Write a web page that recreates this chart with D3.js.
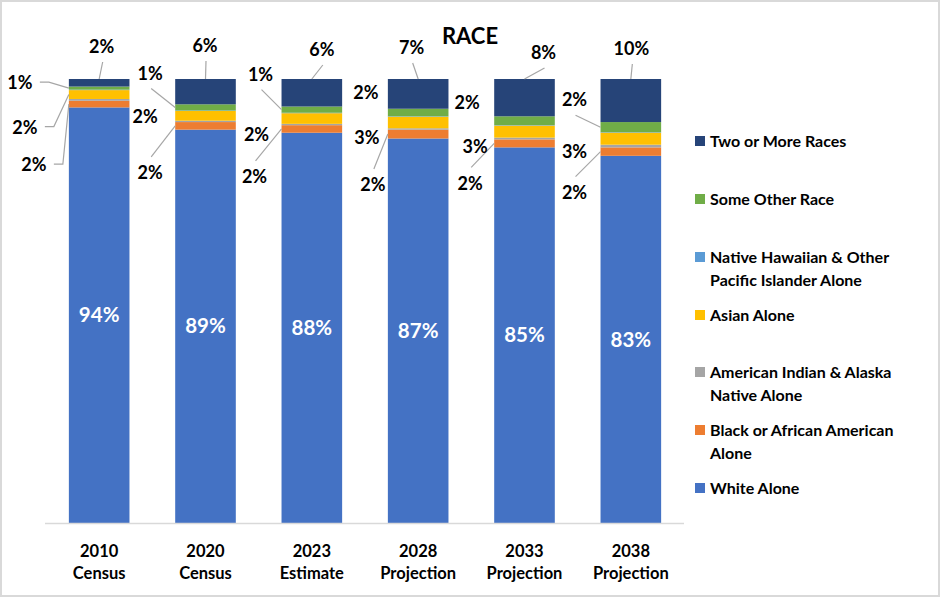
<!DOCTYPE html>
<html>
<head>
<meta charset="utf-8">
<script src="https://cdn.jsdelivr.net/npm/d3@7"></script>
<style>
  html, body { margin: 0; padding: 0; background: #fff; }
  svg { display: block; font-family: Lato, "Open Sans", sans-serif; }
</style>
</head>
<body>
<svg id="chart" width="940" height="598"></svg>
<script>
// ---------- DATA ----------
const categories = [["2010", "Census"], ["2020", "Census"], ["2023", "Estimate"],
                    ["2028", "Projection"], ["2033", "Projection"], ["2038", "Projection"]];
const seriesNames = ["White Alone", "Black or African American Alone",
  "American Indian & Alaska Native Alone", "Asian Alone",
  "Native Hawaiian & Other Pacific Islander Alone", "Some Other Race", "Two or More Races"];
const white = [93.6, 88.6, 87.9, 86.6, 84.6, 82.7];
const black = [1.5, 1.7, 1.7, 2.0, 1.8, 1.9];
const aian  = [0.4, 0.3, 0.3, 0.3, 0.4, 0.6];
const asian = [2.0, 2.2, 2.4, 2.6, 2.7, 2.7];
const nhpi  = [0.1, 0.1, 0.1, 0.1, 0.1, 0.1];
const other = [0.7, 1.4, 1.4, 1.7, 2.0, 2.3];
const twoPlus = [1.7, 5.7, 6.2, 6.7, 8.4, 9.7];
const seriesValues = [white, black, aian, asian, nhpi, other, twoPlus];

// ---------- STYLE / LAYOUT ----------
const colors = ["#4472C4", "#ED7D31", "#A5A5A5", "#FFC000", "#5B9BD5", "#70AD47", "#264478"];
// label placement offsets (dx, dy from anchor) and leader style: 0 none, 1 straight, 2 elbow
const labelLayout = {
  1: [[-35, 61, 2], [-25, 47, 1], [-27, 48, 1], [-15, 51, 1], [-24, 40, 1], [-26, 41, 1]],
  3: [[-44, 33, 2], [-30, 1, 0], [-25, 16, 0], [-21, 15, 0], [-19, 15, 0], [-26, 13, 0]],
  5: [[-49, -5, 2], [-25, -34, 1], [-21, -35, 1], [-22, -20, 0], [-27, -18, 0], [-26, -27, 1]],
  6: [[2.5, -32, 1], [-0.5, -33, 1], [10, -29, 1], [-6.5, -31, 1], [19, -26, 1], [0.5, -30, 1]]
};
const legendOrder = [6, 5, 4, 3, 2, 1, 0];
const legendLines = {
  6: ["Two or More Races"], 5: ["Some Other Race"],
  4: ["Native Hawaiian & Other", "Pacific Islander Alone"], 3: ["Asian Alone"],
  2: ["American Indian & Alaska", "Native Alone"], 1: ["Black or African American", "Alone"],
  0: ["White Alone"]
};
const legendY = [141, 199, 257, 315, 372, 430, 488];

const svg = d3.select("#chart");
const W = 940, H = 598;

// border
svg.append("rect").attr("x", 1).attr("y", 1).attr("width", W - 2).attr("height", H - 3)
  .attr("fill", "#fff").attr("stroke", "#D9D9D9").attr("stroke-width", 2);

const x = d3.scaleBand().domain(d3.range(categories.length)).range([46, 684])
  .paddingInner(0.43).paddingOuter(0.215);
const y = d3.scaleLinear().domain([0, 100]).range([523, 79]);

// stack
const rows = categories.map((c, i) => {
  const r = { i };
  seriesValues.forEach((s, k) => r[k] = s[i]);
  return r;
});
const stack = d3.stack().keys(d3.range(seriesValues.length))(rows);

const g = svg.append("g");
stack.forEach((layer, k) => {
  g.selectAll(null).data(layer).enter().append("rect")
    .attr("x", d => x(d.data.i))
    .attr("width", x.bandwidth())
    .attr("y", d => y(d[1]))
    .attr("height", d => y(d[0]) - y(d[1]))
    .attr("fill", colors[k]);
});

// axis line
svg.append("line").attr("x1", 45).attr("x2", 684).attr("y1", 523.5).attr("y2", 523.5)
  .attr("stroke", "#D9D9D9").attr("stroke-width", 1.5);

// x labels
categories.forEach((c, i) => {
  const t = svg.append("text").attr("x", x(i) + x.bandwidth() / 2).attr("text-anchor", "middle")
    .attr("font-size", 16.5).attr("font-weight", "bold").attr("fill", "#000");
  t.append("tspan").attr("x", x(i) + x.bandwidth() / 2).attr("y", 557).text(c[0]);
  t.append("tspan").attr("x", x(i) + x.bandwidth() / 2).attr("y", 579).text(c[1]);
});

// white labels
stack[0].forEach(d => {
  svg.append("text").attr("x", x(d.data.i) + x.bandwidth() / 2)
    .attr("y", (y(d[0]) + y(d[1])) / 2).attr("dy", "0.35em")
    .attr("text-anchor", "middle").attr("fill", "#fff")
    .attr("font-size", 20.5).attr("font-weight", "bold")
    .text(Math.round(d[1] - d[0]) + "%");
});

// side / top labels
const leaderColor = "#A6A6A6";
Object.keys(labelLayout).forEach(key => {
  const k = +key;
  stack[k].forEach((d, i) => {
    const [dx, dy, leader] = labelLayout[k][i];
    let ax, ay;
    if (k === 6) { ax = x(i) + x.bandwidth() / 2; ay = y(d[1]); }
    else { ax = x(i); ay = (y(d[0]) + y(d[1])) / 2; }
    const lx = ax + dx, ly = ay + dy;
    if (leader === 1) {
      const sy = ly + (ly < ay ? 15 : -16);
      svg.append("line").attr("x1", lx + 1).attr("y1", sy).attr("x2", ax).attr("y2", ay)
        .attr("stroke", leaderColor).attr("stroke-width", 1.2);
    } else if (leader === 2) {
      svg.append("polyline")
        .attr("points", `${lx + 20},${ly - 1} ${lx + 29},${ly - 1} ${ax},${ay}`)
        .attr("fill", "none").attr("stroke", leaderColor).attr("stroke-width", 1.2);
    }
    svg.append("text").attr("x", lx).attr("y", ly).attr("dy", "0.35em")
      .attr("text-anchor", "middle").attr("fill", "#000")
      .attr("font-size", 18).attr("font-weight", "bold")
      .text(Math.round(d[1] - d[0]) + "%");
  });
});

// title
svg.append("text").attr("x", 470).attr("y", 44).attr("text-anchor", "middle")
  .attr("font-size", 22).attr("font-weight", "bold").attr("fill", "#000").text("RACE");

// legend
legendOrder.forEach((k, j) => {
  const ly = legendY[j];
  svg.append("rect").attr("x", 695).attr("y", ly - 5).attr("width", 10).attr("height", 10)
    .attr("fill", colors[k]);
  const t = svg.append("text").attr("font-size", 16).attr("font-weight", "bold").attr("fill", "#000");
  legendLines[k].forEach((line, m) => {
    t.append("tspan").attr("x", 710).attr("y", ly + m * 23).attr("dy", "0.35em").text(line);
  });
});
</script>
</body>
</html>
